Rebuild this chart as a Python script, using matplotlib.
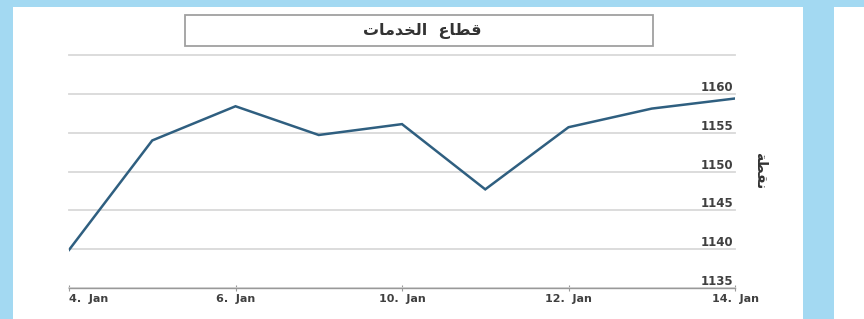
import matplotlib.pyplot as plt
from matplotlib.patches import Rectangle
import numpy as np

# data (ordinal trading days)
values = [1139.9, 1154.0, 1158.4, 1154.7, 1156.1, 1147.7, 1155.7, 1158.1, 1159.4]
tick_idx = [0, 2, 4, 6, 8]
tick_labels = ["4.  Jan", "6.  Jan", "10.  Jan", "12.  Jan", "14.  Jan"]
y_ticks = [1135, 1140, 1145, 1150, 1155, 1160, 1165]
y_tick_labels = ["1135", "1140", "1145", "1150", "1155", "1160", ""]

# Arabic text in presentation forms, visual order (matplotlib has no shaping)
title = "\uFE95\uFE8E\uFEE3\uFEAA\uFEA8\uFEDF\uFE8D  \uFEC9\uFE8E\uFEC4\uFED7"   # قطاع الخدمات
y_title = "\uFE94\uFEC4\uFED8\uFEE7"   # نقطة

BLUE_BG = '#a3d9f2'
LINE_COLOR = '#2f5f80'
TEXT_COLOR = '#404040'

plt.rcParams['font.family'] = ['DejaVu Sans']

fig = plt.figure(figsize=(8.64, 3.19), dpi=100)
fig.patch.set_facecolor(BLUE_BG)

# white panels on the blue background
fig.add_artist(Rectangle((13 / 864, 0), 790 / 864, 312 / 319, transform=fig.transFigure,
                         facecolor='white', edgecolor='none', zorder=0))
fig.add_artist(Rectangle((834 / 864, 0), 30 / 864, 312 / 319, transform=fig.transFigure,
                         facecolor='white', edgecolor='none', zorder=0))

ax = fig.add_axes([69 / 864, 1 - 288 / 319, 666 / 864, 233 / 319])
ax.set_facecolor('none')

x = np.arange(len(values))
ax.plot(x, values, color=LINE_COLOR, linewidth=1.8, solid_joinstyle='miter', zorder=3)

ax.set_xlim(0, 8)
ax.set_ylim(1135, 1165)

ax.set_xticks(tick_idx)
ax.set_xticklabels(tick_labels, fontsize=8, color=TEXT_COLOR, fontweight='bold')
ax.get_xticklabels()[0].set_ha('left')
ax.tick_params(axis='x', direction='inout', length=5, width=0.8, color='#999999', pad=2)

ax.yaxis.tick_right()
ax.set_yticks(y_ticks)
ax.set_yticklabels(y_tick_labels, fontsize=8.5, color=TEXT_COLOR, fontweight='bold')
for lab in ax.get_yticklabels():
    lab.set_ha('right')
    lab.set_va('bottom')
ax.tick_params(axis='y', length=0, pad=-1)

ax.grid(axis='y', color='#d9d9d9', linewidth=1.3, clip_on=False)
ax.set_axisbelow(True)
for s in ['top', 'left', 'right']:
    ax.spines[s].set_visible(False)
ax.spines['bottom'].set_color('#999999')
ax.spines['bottom'].set_linewidth(1.0)

# right side axis title
fig.text(760 / 864, 1 - 171 / 319, y_title, rotation=-90, ha='center', va='center',
         fontsize=10, color='#333333', fontweight='bold')

# title box
fig.add_artist(Rectangle((185 / 864, 1 - 46 / 319), 468 / 864, 31 / 319, transform=fig.transFigure,
                         facecolor='white', edgecolor='#a0a0a0', linewidth=1.3, zorder=2))
fig.text(422 / 864, 1 - 31 / 319, title, ha='center', va='center',
         fontsize=11.5, color='#333333', fontweight='bold', zorder=3)

plt.savefig('out.png', dpi=100, facecolor=fig.get_facecolor())
